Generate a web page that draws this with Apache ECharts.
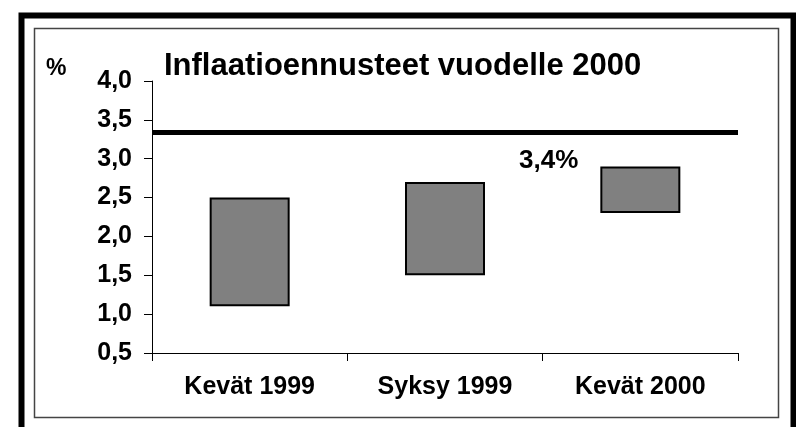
<!DOCTYPE html>
<html>
	<head>
		<meta charset="utf-8">
		<title>Inflaatioennusteet vuodelle 2000</title>
		<script src="https://cdn.jsdelivr.net/npm/echarts@6/dist/echarts.min.js"></script>
		<style type="text/css">
			html, body {
				margin: 0;
				padding: 0;
				background: #ffffff;
			}
			#main {
				width: 796px;
				height: 427px;
			}
		</style>
	</head>
	<body>
		<div id="main"></div>
		<script type="text/javascript">
			// data
			var categories = ['Kevät 1999', 'Syksy 1999', 'Kevät 2000'];
			var lows = [1.1, 1.5, 2.3];
			var highs = [2.5, 2.7, 2.9];
			var targetLine = 3.34;
			var targetText = '3,4%';

			// floating bars = invisible base + visible range
			var ranges = [];
			for (var i = 0; i < highs.length; i++) {
				ranges.push(+(highs[i] - lows[i]).toFixed(2));
			}

			var font = 'Liberation Sans, Arial, sans-serif';
			var myChart = echarts.init(document.getElementById('main'));

			var option = {
				animation: false,
				backgroundColor: '#ffffff',
				grid: {
					left: 152,
					right: 58,
					top: 81,
					bottom: 74
				},
				xAxis: {
					type: 'category',
					data: categories,
					boundaryGap: true,
					axisLine: { lineStyle: { color: '#000', width: 1 } },
					axisTick: { show: true, interval: 0, length: 8, lineStyle: { color: '#000' } },
					axisLabel: {
						interval: 0,
						margin: 22,
						color: '#000',
						fontSize: 25,
						fontWeight: 'bold',
						fontFamily: font
					}
				},
				yAxis: {
					type: 'value',
					min: 0.5,
					max: 4,
					interval: 0.5,
					splitLine: { show: false },
					axisLine: { show: true, lineStyle: { color: '#000', width: 1 } },
					axisTick: { show: true, length: 8, lineStyle: { color: '#000' } },
					axisLabel: {
						margin: 20,
						color: '#000',
						fontSize: 25,
						fontWeight: 'bold',
						fontFamily: font,
						formatter: function (v) {
							return v.toFixed(1).replace('.', ',');
						}
					}
				},
				series: [
					{
						type: 'bar',
						stack: 'range',
						data: lows,
						barWidth: 80,
						itemStyle: { color: 'transparent' },
						silent: true
					},
					{
						type: 'bar',
						stack: 'range',
						data: ranges,
						barWidth: 80,
						itemStyle: {
							color: '#808080',
							borderColor: '#000',
							borderWidth: 2
						},
						markLine: {
							silent: true,
							symbol: ['none', 'none'],
							label: { show: false },
							lineStyle: { color: '#000', width: 5, type: 'solid' },
							data: [{ yAxis: targetLine }]
						}
					}
				],
				graphic: [
					// outer thick frame
					{
						type: 'rect',
						shape: { x: 21.5, y: 15.5, width: 772, height: 440 },
						style: { fill: 'none', stroke: '#000', lineWidth: 6 },
						silent: true
					},
					// inner thin frame
					{
						type: 'rect',
						shape: { x: 34.5, y: 28.5, width: 744, height: 389 },
						style: { fill: 'none', stroke: '#444', lineWidth: 1.5 },
						silent: true
					},
					{
						type: 'text',
						left: 164,
						top: 51,
						style: {
							text: 'Inflaatioennusteet vuodelle 2000',
							fill: '#000',
							font: 'bold 31px ' + font
						}
					},
					{
						type: 'text',
						left: 46,
						top: 57,
						style: {
							text: '%',
							fill: '#000',
							font: 'bold 23px ' + font
						}
					},
					{
						type: 'text',
						left: 519,
						top: 148,
						style: {
							text: targetText,
							fill: '#000',
							font: 'bold 26px ' + font
						}
					}
				]
			};

			myChart.setOption(option);
		</script>
	</body>
</html>
